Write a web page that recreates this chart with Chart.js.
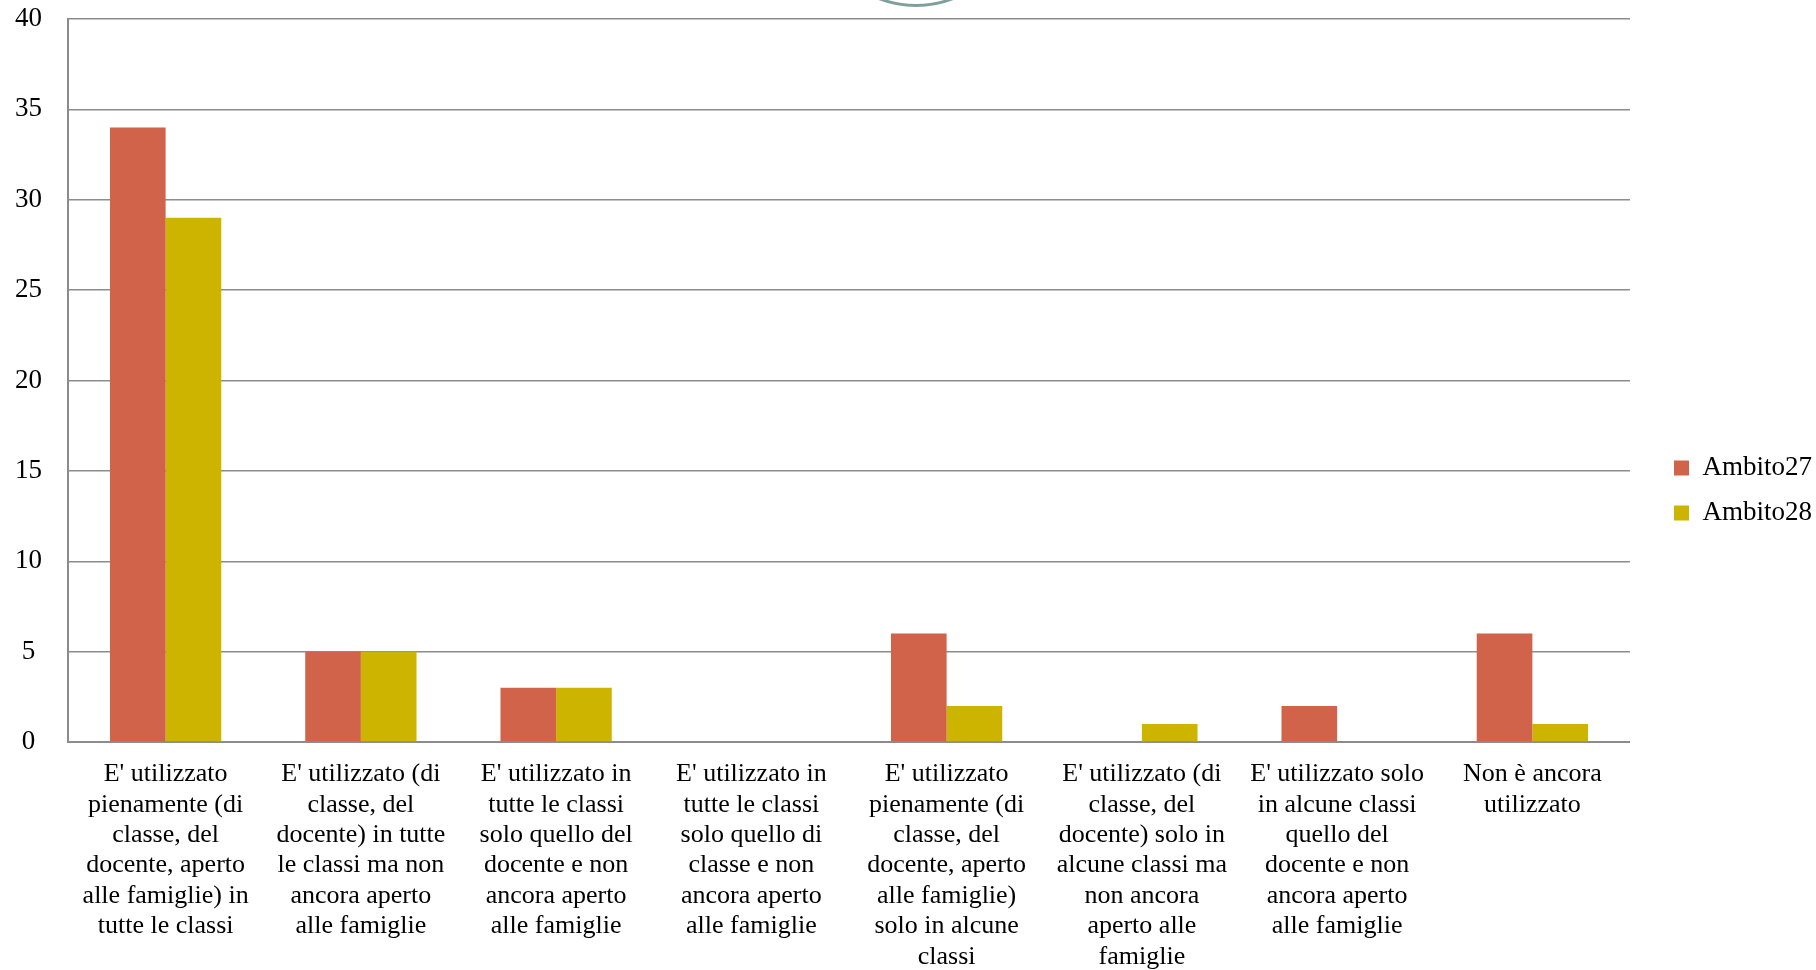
<!DOCTYPE html>
<html lang="it">
  <head>
    <meta charset="UTF-8" />
    <title>Ambito27 / Ambito28</title>
    <script src="https://cdn.jsdelivr.net/npm/chart.js"></script>
    <style>
      html, body {
        margin: 0;
        padding: 0;
        background: #fff;
        overflow: hidden;
      }
      .wrap {
        position: relative;
        width: 1816px;
        height: 970px;
      }
      .anello {
        position: absolute;
        left: 812px;
        top: -201px;
        width: 202px;
        height: 202px;
        border: 3px solid #7f9e9c;
        border-radius: 50%;
      }
    </style>
  </head>
  <body>
    <div class="wrap">
      <canvas id="grafico" width="1816" height="970"></canvas>
      <div class="anello"></div>
    </div>

    <script>
      const categorie = [
        ["E' utilizzato", "pienamente (di", "classe, del", "docente, aperto", "alle famiglie) in", "tutte le classi"],
        ["E' utilizzato (di", "classe, del", "docente) in tutte", "le classi ma non", "ancora aperto", "alle famiglie"],
        ["E' utilizzato in", "tutte le classi", "solo quello del", "docente e non", "ancora aperto", "alle famiglie"],
        ["E' utilizzato in", "tutte le classi", "solo quello di", "classe e non", "ancora aperto", "alle famiglie"],
        ["E' utilizzato", "pienamente (di", "classe, del", "docente, aperto", "alle famiglie)", "solo in alcune", "classi"],
        ["E' utilizzato (di", "classe, del", "docente) solo in", "alcune classi ma", "non ancora", "aperto alle", "famiglie"],
        ["E' utilizzato solo", "in alcune classi", "quello del", "docente e non", "ancora aperto", "alle famiglie"],
        ["Non è ancora", "utilizzato"],
      ];
      const ambito27 = [34, 5, 3, 0, 6, 0, 2, 6];
      const ambito28 = [29, 5, 3, 0, 2, 1, 0, 1];
      const tickY = [0, 5, 10, 15, 20, 25, 30, 35, 40];

      const FONT = "'Liberation Serif', 'Times New Roman', serif";
      const grigio = "#8c8c8c";
      const extraLegenda = 20;

      // allarga il riquadro della legenda verso sinistra e sposta le voci
      const spazioLegenda = {
        id: "spazioLegenda",
        afterInit(chart) {
          const leg = chart.legend;
          if (!leg) return;
          const fit = leg.fit;
          leg.fit = function () {
            fit.call(this);
            this.width += extraLegenda;
          };
          const draw = leg.draw;
          leg.draw = function () {
            const c = this.ctx;
            c.save();
            c.translate(extraLegenda + 6, 0);
            draw.apply(this, arguments);
            c.restore();
          };
        },
      };

      // sposta un po' a sinistra le etichette dell'asse y
      function spostaEtichetteY(scale) {
        if (scale._spostato) return;
        scale._spostato = true;
        const dl = scale.drawLabels;
        scale.drawLabels = function () {
          this.ctx.save();
          this.ctx.translate(-7, 0);
          dl.apply(this, arguments);
          this.ctx.restore();
        };
      }

      const ctx = document.getElementById("grafico").getContext("2d");
      new Chart(ctx, {
        type: "bar",
        data: {
          labels: categorie,
          datasets: [
            {
              label: "Ambito27",
              data: ambito27,
              backgroundColor: "#d1634a",
            },
            {
              label: "Ambito28",
              data: ambito28,
              backgroundColor: "#ccb400",
            },
          ],
        },
        plugins: [spazioLegenda],
        options: {
          responsive: false,
          animation: false,
          categoryPercentage: 0.57,
          barPercentage: 1,
          layout: {
            padding: { top: 0, right: 0, bottom: -11, left: 3 },
          },
          plugins: {
            tooltip: { enabled: false },
            legend: {
              position: "right",
              labels: {
                boxWidth: 15,
                boxHeight: 15,
                padding: 18,
                color: "#000",
                font: { family: FONT, size: 27 },
              },
            },
          },
          scales: {
            x: {
              grid: { display: false },
              border: { color: grigio, width: 2 },
              ticks: {
                color: "#000",
                maxRotation: 0,
                autoSkip: false,
                padding: 9,
                font: { family: FONT, size: 26, lineHeight: 1.17 },
              },
            },
            y: {
              min: 0,
              max: 40,
              afterBuildTicks: (ax) => {
                ax.ticks = tickY.map((v) => ({ value: v }));
              },
              afterUpdate: spostaEtichetteY,
              grid: { color: grigio, lineWidth: 1.5, drawTicks: false },
              border: { color: grigio, width: 2 },
              ticks: {
                color: "#000",
                autoSkip: false,
                crossAlign: "center",
                padding: 19,
                font: { family: FONT, size: 27, lineHeight: 0 },
              },
            },
          },
        },
      });
    </script>
  </body>
</html>
